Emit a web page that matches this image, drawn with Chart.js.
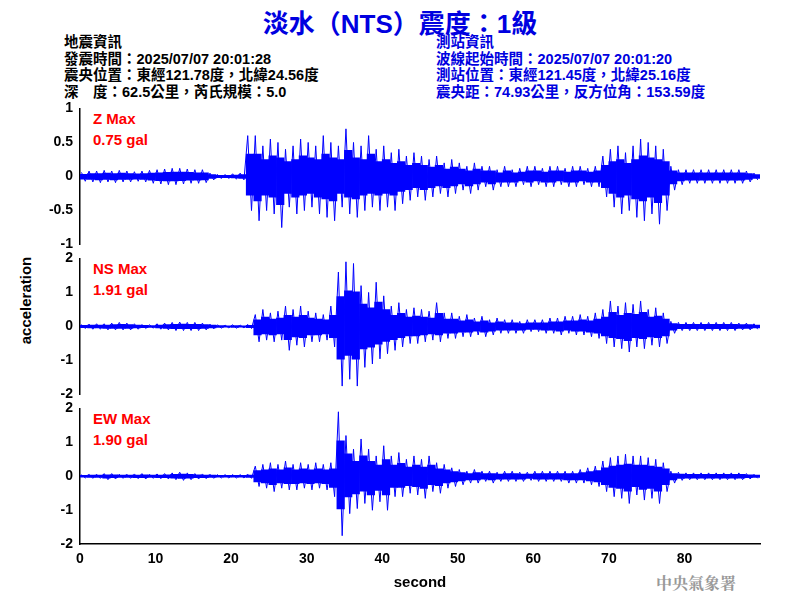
<!DOCTYPE html>
<html><head><meta charset="utf-8">
<script src="https://cdn.jsdelivr.net/npm/chart.js@4"></script>
<style>
body{margin:0;width:800px;height:600px;background:#fff;position:relative;overflow:hidden;font-family:"Liberation Sans",Arial,sans-serif}
canvas{position:absolute;left:0}
.t{position:absolute;white-space:pre;font-family:"Liberation Sans","Noto Sans CJK TC",sans-serif}
.info{font-size:14.5px;line-height:16.5px;font-weight:bold}
.red{color:#f00;font-size:15px;font-weight:bold;line-height:21px}
</style></head><body>
<div class="t" style="left:0;width:800px;text-align:center;top:3px;font-size:26px;font-weight:bold;color:#0000e0">淡水（NTS）震度：1級</div>
<div class="t info" style="left:64px;top:34px;color:#000">地震資訊
發震時間：2025/07/07 20:01:28
震央位置：東經121.78度，北緯24.56度
深　度：62.5公里，芮氏規模：5.0</div>
<div class="t info" style="left:436px;top:34px;color:#0000e0">測站資訊
波線起始時間：2025/07/07 20:01:20
測站位置：東經121.45度，北緯25.16度
震央距：74.93公里，反方位角：153.59度</div>
<div class="t red" style="left:93px;top:108px">Z Max
0.75 gal</div>
<div class="t red" style="left:93px;top:258px">NS Max
1.91 gal</div>
<div class="t red" style="left:93px;top:408px">EW Max
1.90 gal</div>
<div class="t" style="left:-18px;top:292px;transform:rotate(-90deg);font-size:15px;font-weight:bold">acceleration</div>
<div class="t" style="left:656px;top:571px;font-size:16px;font-weight:bold;color:#999;font-family:'Noto Serif CJK TC','Noto Sans CJK TC',serif">中央氣象署</div>
<canvas id="cZ" style="top:98px"></canvas>
<canvas id="cNS" style="top:248px"></canvas>
<canvas id="cEW" style="top:398px"></canvas>
<script>
// per-second envelope (max / min), seconds 0..89
var zMax = [.06,.08,.08,.09,.08,.09,.08,.07,.08,.09,.1,.11,.12,.12,.11,.1,.1,.05,.03,.03,.04,.05,.6,
  .6,.45,.55,.5,.4,.45,.55,.5,.45,.6,.5,.45,.7,.5,.45,.6,.4,.45,.35,.4,.3,.35,.3,.25,.3,.2,.25,
  .2,.15,.2,.15,.15,.1,.15,.1,.12,.15,.15,.12,.15,.15,.12,.15,.15,.12,.15,.3,
  .4,.45,.35,.45,.55,.5,.45,.4,.15,.1,.1,.1,.1,.1,.1,.1,.1,.1,.08,.05];
var zMin = [-.07,-.08,-.09,-.08,-.09,-.08,-.08,-.07,-.08,-.1,-.11,-.12,-.12,-.11,-.1,-.1,-.09,-.05,-.03,-.03,-.04,-.05,-.5,
  -.65,-.5,-.55,-.75,-.45,-.55,-.5,-.45,-.55,-.6,-.65,-.45,-.55,-.6,-.5,-.45,-.5,-.45,-.5,-.4,-.35,-.3,-.35,-.3,-.25,-.3,-.25,
  -.2,-.25,-.2,-.15,-.2,-.15,-.15,-.15,-.12,-.15,-.12,-.15,-.15,-.12,-.15,-.15,-.12,-.15,-.15,-.3,
  -.45,-.55,-.5,-.6,-.65,-.55,-.7,-.5,-.2,-.12,-.1,-.1,-.1,-.1,-.1,-.1,-.1,-.1,-.08,-.05];
var nsMax = [.06,.07,.08,.08,.1,.12,.1,.08,.06,.05,.08,.1,.12,.13,.12,.12,.1,.07,.05,.04,.05,.04,.06,
  .35,.5,.4,.45,.6,.5,.6,.45,.4,.35,.6,1.6,1.9,1.85,1.2,1.0,1.3,.9,.6,.7,.5,.55,.5,.45,.7,.4,.4,
  .3,.35,.25,.3,.2,.25,.2,.2,.15,.2,.2,.2,.25,.25,.3,.3,.35,.3,.4,.5,
  .75,.6,.7,.65,.75,.5,.55,.4,.15,.12,.12,.12,.12,.12,.12,.12,.12,.1,.1,.08];
var nsMin = [-.06,-.08,-.08,-.1,-.1,-.1,-.1,-.08,-.06,-.05,-.08,-.1,-.12,-.12,-.12,-.12,-.1,-.07,-.05,-.04,-.05,-.04,-.06,
  -.45,-.4,-.45,-.4,-.7,-.55,-.6,-.45,-.45,-.4,-.6,-1.75,-1.55,-1.75,-1.2,-1.1,-.95,-.8,-.7,-.6,-.5,-.5,-.45,-.4,-.45,-.35,-.35,
  -.3,-.3,-.25,-.3,-.25,-.2,-.2,-.2,-.2,-.15,-.15,-.2,-.2,-.25,-.2,-.25,-.25,-.3,-.35,-.5,
  -.6,-.65,-.75,-.6,-.65,-.55,-.6,-.5,-.2,-.12,-.12,-.12,-.12,-.12,-.12,-.12,-.12,-.1,-.1,-.08];
var ewMax = [.05,.06,.06,.08,.08,.06,.06,.07,.08,.06,.07,.08,.1,.12,.1,.08,.07,.06,.05,.05,.05,.05,.06,
  .3,.35,.4,.35,.45,.35,.4,.35,.4,.35,.4,1.9,1.2,.8,1.1,.8,.6,.9,.6,.7,.5,.6,.5,.6,.4,.35,.25,
  .2,.15,.2,.15,.15,.12,.15,.15,.12,.12,.15,.15,.15,.15,.15,.15,.2,.25,.3,.45,
  .55,.6,.65,.6,.6,.55,.5,.4,.15,.12,.1,.1,.1,.1,.1,.1,.1,.1,.08,.06];
var ewMin = [-.05,-.06,-.06,-.1,-.08,-.06,-.06,-.07,-.08,-.06,-.07,-.08,-.1,-.12,-.1,-.08,-.07,-.06,-.05,-.05,-.05,-.05,-.06,
  -.3,-.35,-.45,-.35,-.4,-.4,-.35,-.4,-.35,-.4,-.6,-1.75,-1.1,-.95,-.8,-1.0,-.75,-1.0,-.6,-.6,-.5,-.55,-.65,-.45,-.5,-.35,-.3,
  -.25,-.2,-.2,-.15,-.2,-.15,-.15,-.15,-.15,-.12,-.15,-.15,-.15,-.15,-.2,-.2,-.2,-.25,-.3,-.45,
  -.6,-.65,-.8,-.55,-.7,-.65,-.8,-.45,-.2,-.12,-.1,-.1,-.1,-.1,-.1,-.1,-.1,-.1,-.08,-.06];
var xTicks = [0,10,20,30,40,50,60,70,80];

var tickFont = {family:'"Liberation Sans", Arial', size:14, weight:'bold'};

function makeChart(id, hi, lo, yMax, yStep, showX) {
  var canvas = document.getElementById(id);
  var h = showX ? 196 : 157;
  canvas.width = 800; canvas.height = h;
  canvas.style.width = '800px'; canvas.style.height = h + 'px';
  var bars = [], line = [];
  for (var i = 0; i < hi.length; i++) {
    bars.push({x: i + 0.5, y: [lo[i] * 0.55, hi[i] * 0.55]});
    line.push({x: i + 0.2, y: hi[i]});
    line.push({x: i + 0.7, y: lo[i]});
  }
  return new Chart(canvas, {
    type: 'bar',
    data: {datasets: [
      {type: 'line', data: line, borderColor: '#0000ff', borderWidth: 1, pointRadius: 0, tension: 0},
      {data: bars, backgroundColor: '#0000ff', barPercentage: 1, categoryPercentage: 1}
    ]},
    options: {
      responsive: false, animation: false,
      layout: {padding: {top: 5, right: 40, bottom: showX ? 0 : 5}},
      plugins: {legend: {display: false}, tooltip: {enabled: false}},
      scales: {
        x: {type: 'linear', min: 0, max: 90, display: showX, offset: false,
          afterBuildTicks: function (s) { s.ticks = xTicks.map(function (v) { return {value: v}; }); },
          grid: {display: false, offset: false, drawTicks: true, tickLength: 5, color: '#000'},
          border: {color: '#000', width: 1.5},
          ticks: {color: '#000', font: tickFont, maxRotation: 0, padding: 2},
          title: {display: true, text: 'second', color: '#000', font: {family:'"Liberation Sans", Arial', size:15, weight:'bold'}, padding: {top: 4, bottom: 2}}},
        y: {min: -yMax, max: yMax,
          afterFit: function (s) { s.width = 80; },
          grid: {display: false, drawTicks: true, tickLength: 5, color: '#000'},
          border: {color: '#000', width: 1.5},
          ticks: {stepSize: yStep, color: '#000', font: tickFont, padding: 2,
            callback: function (v) { return String(v); }}}
      }
    }
  });
}
makeChart('cZ', zMax, zMin, 1, 0.5, false);
makeChart('cNS', nsMax, nsMin, 2, 1, false);
makeChart('cEW', ewMax, ewMin, 2, 1, true);
</script>
</body></html>
